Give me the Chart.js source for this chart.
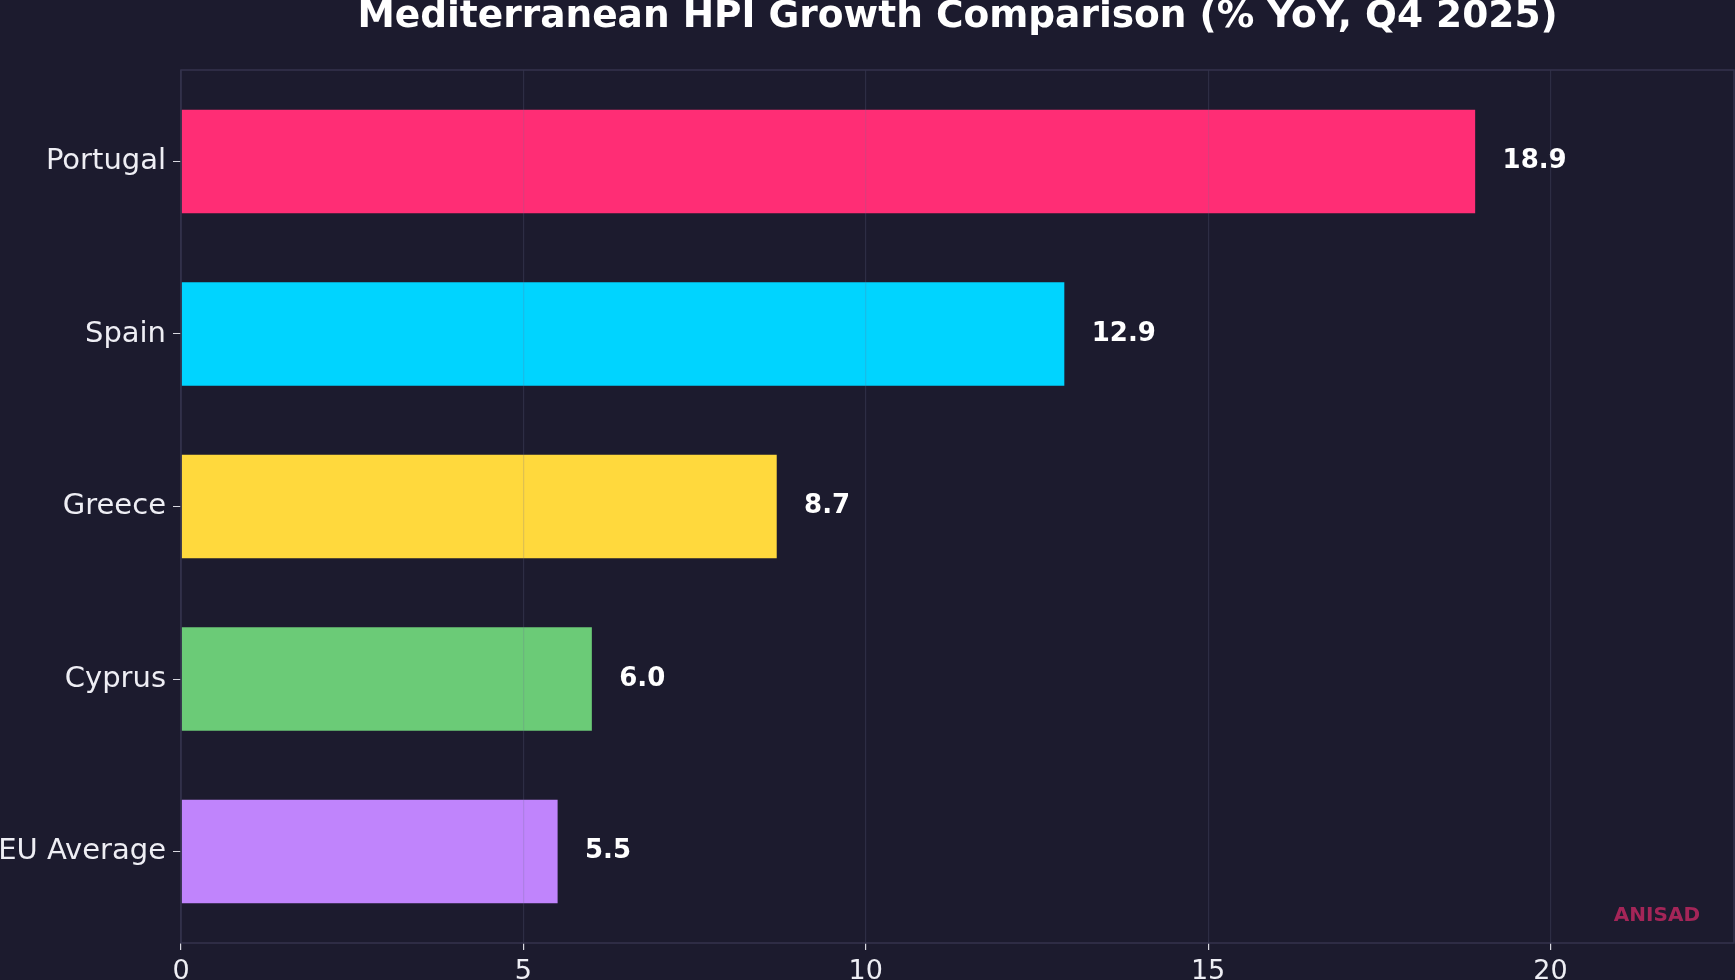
<!DOCTYPE html>
<html>
<head>
<meta charset="utf-8">
<title>Mediterranean HPI Growth Comparison</title>
<script src="https://cdn.jsdelivr.net/npm/chart.js@4.4.1/dist/chart.umd.min.js"></script>
<style>
    html, body { margin: 0; padding: 0; background: #1c1b2e; overflow: hidden; }
    #wrap { width: 1735px; height: 980px; }
</style>
</head>
<body>
<div id="wrap"><canvas id="hpiChart" width="1735" height="980"></canvas></div>
<script>
// Data
const countries = ['Portugal', 'Spain', 'Greece', 'Cyprus', 'EU Average'];
const hpiGrowth = [18.9, 12.9, 8.7, 6.0, 5.5];
const barColors = ['#ff2d75', '#00d4ff', '#ffd93d', '#6bcb77', '#c084fc'];
const xTicks = [0, 5, 10, 15, 20];
const chartTitle = 'Mediterranean HPI Growth Comparison (% YoY, Q4 2025)';
const watermark = 'ANISAD';

const FONT = '"DejaVu Sans", "Noto Sans", sans-serif';
const BORDER = '#34334d';

// Title, frame, value labels, watermark
const decorations = {
    id: 'decorations',
    afterDatasetsDraw(chart) {
        const { ctx, scales: { x } } = chart;
        ctx.save();
        ctx.font = 'bold 26px ' + FONT;
        ctx.fillStyle = '#ffffff';
        ctx.textAlign = 'left';
        ctx.textBaseline = 'middle';
        chart.getDatasetMeta(0).data.forEach((bar, i) => {
            ctx.fillText(hpiGrowth[i].toFixed(1), x.getPixelForValue(hpiGrowth[i] + 0.4), bar.y);
        });
        ctx.restore();
    },
    afterDraw(chart) {
        const { ctx, chartArea: a } = chart;
        ctx.save();
        ctx.strokeStyle = BORDER;
        ctx.lineWidth = 1.5;
        ctx.strokeRect(a.left, a.top, a.right - a.left, a.bottom - a.top);

        ctx.font = 'bold 37.5px ' + FONT;
        ctx.fillStyle = '#ffffff';
        ctx.textAlign = 'center';
        ctx.textBaseline = 'alphabetic';
        ctx.fillText(chartTitle, (a.left + a.right) / 2, 27);

        ctx.font = 'bold 20px ' + FONT;
        ctx.fillStyle = 'rgba(255, 45, 117, 0.6)';
        ctx.textAlign = 'right';
        ctx.fillText(watermark, a.right - 34, 921);
        ctx.restore();
    }
};

const ctx = document.getElementById('hpiChart').getContext('2d');
new Chart(ctx, {
    type: 'bar',
    data: {
        datasets: [{
            data: hpiGrowth.map((v, i) => ({ x: v, y: i })),
            backgroundColor: barColors,
            borderWidth: 0,
            categoryPercentage: 0.6,
            barPercentage: 1.0
        }]
    },
    options: {
        indexAxis: 'y',
        responsive: false,
        animation: false,
        layout: { padding: { top: 70, right: 1, left: 0, bottom: 0 } },
        plugins: {
            legend: { display: false },
            title: { display: false },
            tooltip: { enabled: false }
        },
        scales: {
            x: {
                type: 'linear',
                min: 0,
                max: Math.max(...hpiGrowth) * 1.2,
                afterBuildTicks: (axis) => { axis.ticks = xTicks.map(v => ({ value: v })); },
                afterFit: (axis) => { axis.height = 37; },
                grid: {
                    z: 1,
                    color: 'rgba(110, 108, 150, 0.22)',
                    lineWidth: 1.2,
                    drawTicks: true,
                    tickLength: 7,
                    tickColor: '#d8d8e0'
                },
                border: { display: false },
                ticks: {
                    color: '#eeeef4',
                    font: { family: FONT, size: 27 },
                    padding: 6,
                    maxRotation: 0
                }
            },
            y: {
                type: 'linear',
                reverse: true,
                offset: false,
                min: -0.53,
                max: countries.length - 1 + 0.53,
                afterBuildTicks: (axis) => { axis.ticks = countries.map((c, i) => ({ value: i })); },
                afterFit: (axis) => { axis.width = 181; },
                grid: {
                    offset: false,
                    drawOnChartArea: false,
                    drawTicks: true,
                    tickLength: 8,
                    tickColor: '#d8d8e0'
                },
                border: { display: false },
                ticks: {
                    color: '#eeeef4',
                    font: { family: FONT, size: 29 },
                    padding: 7,
                    callback: (v) => countries[v]
                }
            }
        }
    },
    plugins: [decorations]
});
</script>
</body>
</html>
